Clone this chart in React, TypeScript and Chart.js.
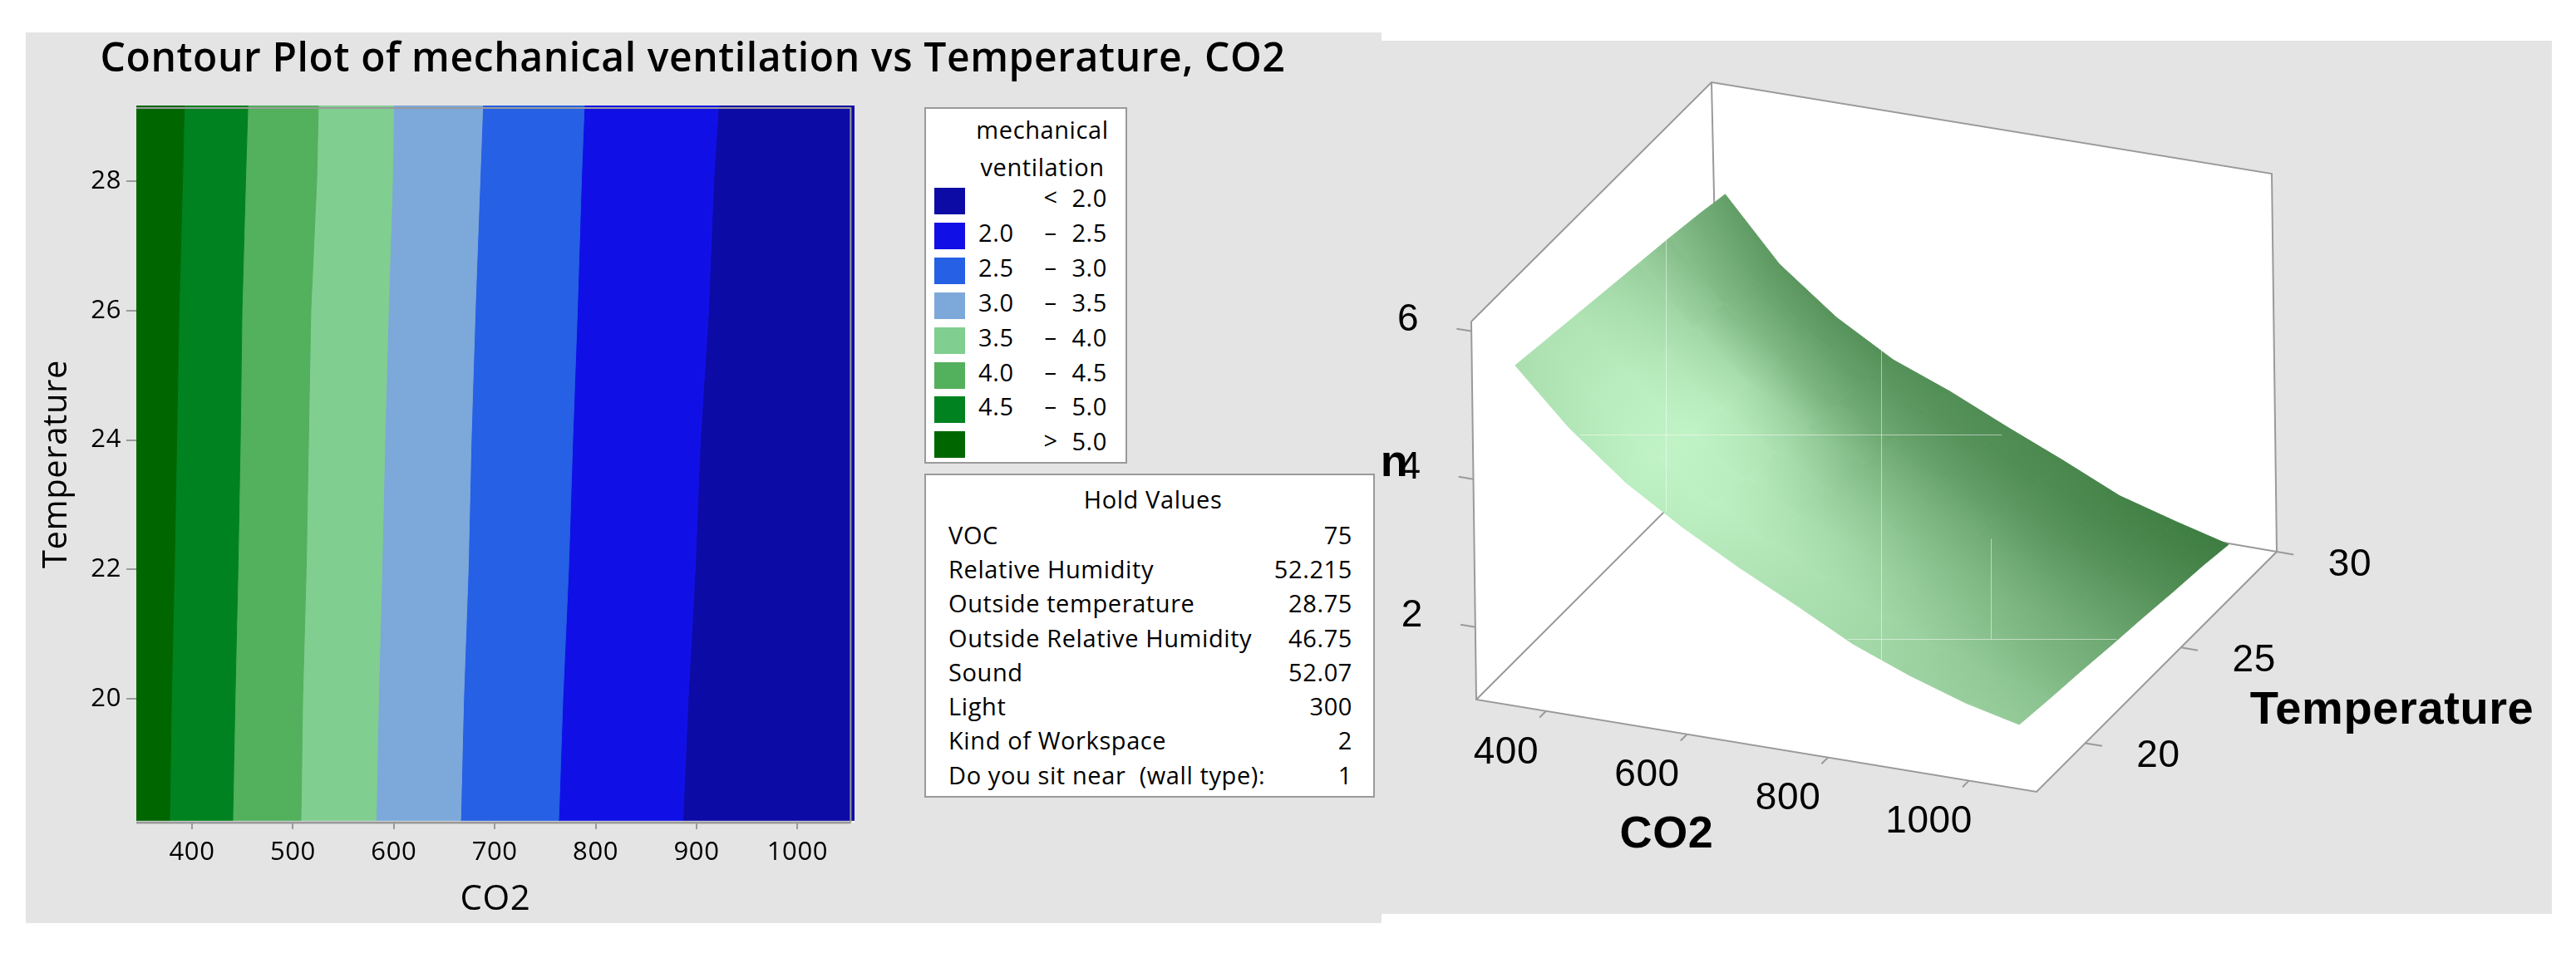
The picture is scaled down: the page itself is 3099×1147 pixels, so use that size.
import React, { useEffect, useRef } from "react";
import { Chart, registerables } from "chart.js";

Chart.register(...registerables);

// ---------- contour panel data ----------
const CHART_TITLE = "Contour Plot of mechanical ventilation vs Temperature, CO2";
const CONTOUR_TEMPS = [18.12, 20, 22, 24, 26, 28, 29.17];
const CO2_AT_5_0 = [377.8, 379.6, 382.5, 384.8, 387.1, 390.6, 392.3];
const CO2_AT_4_5 = [440.3, 442.6, 445.5, 447.8, 449.5, 453.0, 455.3];
const CO2_AT_4_0 = [507.9, 509.6, 513.1, 515.4, 517.7, 523.5, 525.2];
const CO2_AT_3_5 = [582.4, 584.8, 588.2, 591.1, 594.6, 598.6, 599.8];
const CO2_AT_3_0 = [666.2, 669.1, 673.7, 676.6, 680.6, 685.3, 688.1];
const CO2_AT_2_5 = [763.3, 767.4, 773.1, 777.2, 781.8, 785.8, 788.7];
const CO2_AT_2_0 = [886.4, 891.6, 898.5, 903.7, 911.8, 916.9, 921.6];
const CONTOUR_BOUNDARIES = [CO2_AT_5_0, CO2_AT_4_5, CO2_AT_4_0, CO2_AT_3_5, CO2_AT_3_0, CO2_AT_2_5, CO2_AT_2_0];
// from high ventilation (left) to low (right)
const BAND_COLORS = ["#006600", "#008220", "#53b05d", "#80ce90", "#7da8da", "#2560e5", "#1010e6", "#0d0ba6"];

const LEGEND_TITLE = ["mechanical", "ventilation"];
const LEGEND_LOW = ["", "2.0", "2.5", "3.0", "3.5", "4.0", "4.5", ""];
const LEGEND_SEP = ["<", "–", "–", "–", "–", "–", "–", ">"];
const LEGEND_HIGH = ["2.0", "2.5", "3.0", "3.5", "4.0", "4.5", "5.0", "5.0"];
const LEGEND_COLORS = ["#0d0ba6", "#1010e6", "#2560e5", "#7da8da", "#80ce90", "#53b05d", "#008220", "#006600"];

const HOLD_TITLE = "Hold Values";
const HOLD_NAMES = ["VOC", "Relative Humidity", "Outside temperature", "Outside Relative Humidity", "Sound", "Light", "Kind of Workspace", "Do you sit near  (wall type):"];
const HOLD_VALUES = ["75", "52.215", "28.75", "46.75", "52.07", "300", "2", "1"];

// ---------- surface panel data ----------
const SURFACE_CO2 = [345, 420, 500, 580, 660, 740, 820, 900, 980, 1055];
const SURFACE_TEMP = [18.1, 19.7, 21.3, 22.9, 24.5, 26.1, 27.7, 29.0];
const Z_AT_18_1 = [5.44, 4.72, 4.10, 3.62, 3.20, 2.82, 2.42, 2.12, 1.87, 1.70];
const Z_AT_19_7 = [5.37, 4.64, 4.02, 3.54, 3.13, 2.76, 2.37, 2.06, 1.82, 1.64];
const Z_AT_21_3 = [5.30, 4.56, 3.94, 3.46, 3.06, 2.70, 2.32, 2.00, 1.76, 1.59];
const Z_AT_22_9 = [5.23, 4.48, 3.86, 3.38, 3.00, 2.64, 2.27, 1.94, 1.71, 1.53];
const Z_AT_24_5 = [5.16, 4.40, 3.78, 3.30, 2.93, 2.58, 2.22, 1.88, 1.66, 1.48];
const Z_AT_26_1 = [5.09, 4.31, 3.70, 3.22, 2.87, 2.52, 2.17, 1.83, 1.60, 1.42];
const Z_AT_27_7 = [5.01, 4.21, 3.60, 3.14, 2.81, 2.46, 2.12, 1.77, 1.55, 1.37];
const Z_AT_29_0 = [4.93, 4.10, 3.50, 3.05, 2.75, 2.40, 2.07, 1.72, 1.50, 1.31];
const SURFACE_Z = [Z_AT_18_1, Z_AT_19_7, Z_AT_21_3, Z_AT_22_9, Z_AT_24_5, Z_AT_26_1, Z_AT_27_7, Z_AT_29_0];

// how dark the shaded surface looks at each node (0 = palest, 100 = darkest)
const SHADE_18_1 = [20, 13, 7, 8, 14, 19, 24, 29, 33, 36];
const SHADE_19_7 = [16, 9, 3, 6, 12, 19, 26, 33, 39, 44];
const SHADE_21_3 = [16, 8, 3, 9, 19, 27, 35, 43, 50, 56];
const SHADE_22_9 = [23, 14, 8, 17, 33, 40, 47, 52, 59, 64];
const SHADE_24_5 = [32, 25, 22, 34, 49, 55, 60, 66, 71, 75];
const SHADE_26_1 = [45, 47, 50, 59, 67, 72, 76, 80, 83, 86];
const SHADE_27_7 = [60, 66, 70, 75, 80, 84, 87, 90, 93, 95];
const SHADE_29_0 = [72, 78, 82, 84, 85, 88, 91, 95, 98, 100];
const SURFACE_SHADE = [SHADE_18_1, SHADE_19_7, SHADE_21_3, SHADE_22_9, SHADE_24_5, SHADE_26_1, SHADE_27_7, SHADE_29_0];

const CO2_TICKS = [400, 600, 800, 1000];
const TEMP_TICKS = [20, 25, 30];
const Z_TICKS = [2, 4, 6];

// ---------- layout constants ----------
const TEXT_FONT = '"Open Sans", sans-serif';
const BOLD_FONT = '"Liberation Sans", Arial, sans-serif';
const AXIS_GRAY = "#9a9a9a";
const PANEL_GRAY = "#e4e4e4";
const LEFT_BOX = { left: 31, top: 39, width: 1631, height: 1072 };
const RIGHT_BOX = { left: 1662, top: 49, width: 1408, height: 1051 };

const CO2_MIN = 344.8, CO2_MAX = 1056.5, TEMP_MIN = 18.086, TEMP_MAX = 29.17;
const FRAME_RIGHT = 1052.7, FRAME_TOP = 29.13;

// 3D box: value ranges and where its corners land on the page
const BOX = { co2: [301, 1096], temp: [17.46, 30], z: [1.02, 6.13] };
const C000 = [1776, 842], C100 = [2450, 953], C110 = [2739, 664], C010 = [2069, 549];
const C001 = [1770, 387], C101 = [2444, 498], C111 = [2733, 209], C011 = [2059, 99];
// thin pale seams that cross the rendered surface, in page pixels
const SEAMS = [[1900, 523, 2408, 523], [2222, 769, 2546, 769], [2004, 285, 2004, 615], [2263, 418, 2263, 801], [2395, 648, 2395, 769]];

function project(co2: number, temp: number, z: number) {
  const u = (co2 - BOX.co2[0]) / (BOX.co2[1] - BOX.co2[0]);
  const v = (temp - BOX.temp[0]) / (BOX.temp[1] - BOX.temp[0]);
  const w = (z - BOX.z[0]) / (BOX.z[1] - BOX.z[0]);
  const mix = (i: number) => {
    const bottom = (1 - v) * ((1 - u) * C000[i] + u * C100[i]) + v * ((1 - u) * C010[i] + u * C110[i]);
    const top = (1 - v) * ((1 - u) * C001[i] + u * C101[i]) + v * ((1 - u) * C011[i] + u * C111[i]);
    return (1 - w) * bottom + w * top;
  };
  return { x: mix(0), y: mix(1) };
}

function shadeRgb(s: number) {
  const t = Math.min(1, Math.max(0, s / 100));
  const pale = [196, 246, 201], dark = [62, 125, 66];
  return `rgb(${pale.map((p, i) => Math.round(p + (dark[i] - p) * t)).join(",")})`;
}

function cellFill(ctx: CanvasRenderingContext2D, p: any[], s: number[]) {
  // p and s are ordered 00, 10, 11, 01 ; the gradient follows the steepest change of shade
  const du = { x: (p[1].x - p[0].x + p[2].x - p[3].x) / 2, y: (p[1].y - p[0].y + p[2].y - p[3].y) / 2 };
  const dv = { x: (p[3].x - p[0].x + p[2].x - p[1].x) / 2, y: (p[3].y - p[0].y + p[2].y - p[1].y) / 2 };
  const gu = (s[1] - s[0] + s[2] - s[3]) / 2, gv = (s[3] - s[0] + s[2] - s[1]) / 2;
  const det = du.x * dv.y - du.y * dv.x;
  const gx = (gu * dv.y - gv * du.y) / det, gy = (gv * du.x - gu * dv.x) / det;
  const n2 = gx * gx + gy * gy;
  const mean = (s[0] + s[1] + s[2] + s[3]) / 4;
  if (n2 < 1e-7) return shadeRgb(mean);
  const cx = (p[0].x + p[1].x + p[2].x + p[3].x) / 4 - RIGHT_BOX.left;
  const cy = (p[0].y + p[1].y + p[2].y + p[3].y) / 4 - RIGHT_BOX.top;
  const d0 = mean, d1 = 100 - mean;
  const grad = ctx.createLinearGradient(cx - (gx / n2) * d0, cy - (gy / n2) * d0, cx + (gx / n2) * d1, cy + (gy / n2) * d1);
  grad.addColorStop(0, shadeRgb(0));
  grad.addColorStop(1, shadeRgb(100));
  return grad;
}

function polyline(points: any[], color: string, width: number, order = 0): any {
  return { data: points, showLine: true, pointRadius: 0, borderColor: color, borderWidth: width, fill: false, tension: 0, order };
}

const plotBackground = {
  id: "plotBackground",
  beforeDatasetsDraw(chart: any) {
    const { ctx, chartArea: a } = chart;
    ctx.save();
    ctx.fillStyle = "#ffffff";
    ctx.fillRect(a.left, a.top, a.right - a.left, a.bottom - a.top);
    ctx.restore();
  },
};

const moveTitle = {
  id: "moveTitle",
  afterLayout(chart: any) {
    if (chart.titleBlock) {
      chart.titleBlock.left = 0;
      chart.titleBlock.right = 1605;
    }
  },
};

function makeContour(canvas: HTMLCanvasElement) {
  const edges: any[][] = [
    CONTOUR_TEMPS.map((y) => ({ x: CO2_MIN, y })),
    ...CONTOUR_BOUNDARIES.map((b) => CONTOUR_TEMPS.map((y, i) => ({ x: b[i], y }))),
    CONTOUR_TEMPS.map((y) => ({ x: CO2_MAX, y })),
  ];
  const bands = BAND_COLORS.map((color, i) => {
    const ring = [...edges[i], ...[...edges[i + 1]].reverse(), edges[i][0]];
    return { data: ring, showLine: true, pointRadius: 0, tension: 0, fill: "shape", backgroundColor: color, borderColor: color, borderWidth: 1, order: 2 };
  });
  const frame = [
    { x: CO2_MIN, y: TEMP_MIN }, { x: FRAME_RIGHT, y: TEMP_MIN }, { x: FRAME_RIGHT, y: FRAME_TOP }, { x: CO2_MIN, y: FRAME_TOP },
  ];
  const asText = (v: any) => String(v);
  return new Chart(canvas, {
    type: "scatter",
    data: { datasets: [polyline([frame[3], frame[2], frame[1]], AXIS_GRAY, 2, 1), { ...polyline([frame[0], frame[1]], AXIS_GRAY, 3, 1), clip: false }, ...bands] },
    plugins: [plotBackground, moveTitle],
    options: {
      animation: false, responsive: false, maintainAspectRatio: false, devicePixelRatio: 1,
      layout: { padding: { left: 0, top: 0, right: LEFT_BOX.width - 997, bottom: 0 } },
      plugins: {
        legend: { display: false }, tooltip: { enabled: false },
        title: { display: true, text: CHART_TITLE, color: "#000", font: { family: TEXT_FONT, size: 48, weight: "600" }, padding: { top: 5, bottom: 25.4 } },
      },
      scales: {
        x: {
          type: "linear", min: CO2_MIN, max: CO2_MAX,
          afterFit: (s: any) => { s.height = 121; },
          border: { display: false },
          grid: { drawOnChartArea: false, tickLength: 8, color: AXIS_GRAY, lineWidth: 2 },
          ticks: { stepSize: 100, includeBounds: false, color: "#000", font: { family: TEXT_FONT, size: 31, weight: "500" }, padding: 10, maxRotation: 0, autoSkip: false, callback: asText },
          title: { display: true, text: "CO2", color: "#000", font: { family: TEXT_FONT, size: 42, weight: "500" }, padding: { top: 0, bottom: 3 } },
        },
        y: {
          type: "linear", min: TEMP_MIN, max: TEMP_MAX,
          afterFit: (s: any) => { s.width = 133; },
          border: { display: false },
          grid: { drawOnChartArea: false, tickLength: 12, color: AXIS_GRAY, lineWidth: 2 },
          ticks: { stepSize: 2, includeBounds: false, color: "#000", font: { family: TEXT_FONT, size: 31, weight: "500" }, padding: 6, autoSkip: false, callback: asText },
          title: { display: true, text: "Temperature", color: "#000", font: { family: TEXT_FONT, size: 40, weight: "500" }, padding: { top: 14, bottom: 0 } },
        },
      },
    } as any,
  });
}

const surfaceLabels = {
  id: "surfaceLabels",
  afterDatasetsDraw(chart: any) {
    const { ctx, scales } = chart;
    const px = (x: number) => scales.x.getPixelForValue(x), py = (y: number) => scales.y.getPixelForValue(y);
    const put = (text: string, pt: { x: number; y: number }, dx: number, dy: number, font: string) => {
      ctx.font = font;
      ctx.fillText(text, px(pt.x + dx), py(pt.y + dy));
    };
    const tickFont = `46px ${BOLD_FONT}`;
    const boldFont = `bold 54px ${BOLD_FONT}`;
    const wideBold = `bold 56px ${BOLD_FONT}`;
    ctx.save();
    ctx.strokeStyle = "rgba(255,255,255,0.5)";
    ctx.lineWidth = 1;
    SEAMS.forEach(([x0, y0, x1, y1]) => {
      ctx.beginPath();
      ctx.moveTo(px(x0) + 0.5, py(y0) + 0.5);
      ctx.lineTo(px(x1) + 0.5, py(y1) + 0.5);
      ctx.stroke();
    });
    ctx.fillStyle = "#000";
    ctx.textAlign = "center";
    ctx.textBaseline = "middle";
    CO2_TICKS.forEach((t) => put(String(t), project(t, BOX.temp[0], BOX.z[0]), -48, 50, tickFont));
    TEMP_TICKS.forEach((t) => put(String(t), project(BOX.co2[1], t, BOX.z[0]), 88, 16, tickFont));
    Z_TICKS.forEach((t) => put(String(t), project(BOX.co2[0], BOX.temp[0], t), -76, -13, tickFont));
    const mid = project((BOX.co2[0] + BOX.co2[1]) / 2, BOX.temp[0], BOX.z[0]);
    put("CO2", mid, -108, 108, boldFont);
    put("Temperature", project(BOX.co2[1], (BOX.temp[0] + BOX.temp[1]) / 2, BOX.z[0]), 283, 47, wideBold);
    put("n", project(BOX.co2[0], BOX.temp[0], 4), -95, -19, boldFont);
    ctx.restore();
  },
};

function makeSurface(canvas: HTMLCanvasElement) {
  const ctx = canvas.getContext("2d") as CanvasRenderingContext2D;
  const [cMin, cMax] = BOX.co2, [tMin, tMax] = BOX.temp, [zMin, zMax] = BOX.z;
  const A = project(cMin, tMax, zMax), B = project(cMin, tMin, zMax), C = project(cMax, tMax, zMax);
  const D = project(cMin, tMin, zMin), E = project(cMax, tMin, zMin), F = project(cMax, tMax, zMin), G = project(cMin, tMax, zMin);

  const cells: any[] = [];
  SURFACE_TEMP.slice(0, -1).forEach((_, r) => {
    SURFACE_CO2.slice(0, -1).forEach((_, c) => {
      const idx = [[r, c], [r, c + 1], [r + 1, c + 1], [r + 1, c]];
      const pts = idx.map(([a, b]) => project(SURFACE_CO2[b], SURFACE_TEMP[a], SURFACE_Z[a][b]));
      const fill = cellFill(ctx, pts, idx.map(([a, b]) => SURFACE_SHADE[a][b]));
      cells.push({ data: [...pts, pts[0]], showLine: true, pointRadius: 0, tension: 0, fill: "shape", backgroundColor: fill, borderColor: fill, borderWidth: 1, order: 2 });
    });
  });

  const tickLines = [
    ...CO2_TICKS.map((t) => [project(t, tMin, zMin), project(t, tMin - 0.33, zMin)]),
    ...TEMP_TICKS.map((t) => [project(cMax, t, zMin), project(cMax + 24, t, zMin)]),
    ...Z_TICKS.map((t) => [project(cMin, tMin, t), project(cMin - 21, tMin, t)]),
  ].map((seg) => polyline(seg, AXIS_GRAY, 2, 1));

  const box = { data: [B, A, C, F, E, D, B], showLine: true, pointRadius: 0, tension: 0, fill: "shape", backgroundColor: "#ffffff", borderColor: AXIS_GRAY, borderWidth: 2, order: 4 };

  return new Chart(canvas, {
    type: "scatter",
    data: {
      datasets: [
        ...cells,
        ...tickLines,
        polyline([D, G, F], AXIS_GRAY, 2, 3),
        polyline([A, G], AXIS_GRAY, 2, 3),
        box,
      ],
    },
    plugins: [surfaceLabels],
    options: {
      animation: false, responsive: false, maintainAspectRatio: false, devicePixelRatio: 1,
      layout: { padding: 0 },
      plugins: { legend: { display: false }, tooltip: { enabled: false } },
      scales: {
        x: { type: "linear", display: false, min: RIGHT_BOX.left, max: RIGHT_BOX.left + RIGHT_BOX.width },
        y: { type: "linear", display: false, reverse: true, min: RIGHT_BOX.top, max: RIGHT_BOX.top + RIGHT_BOX.height },
      },
    } as any,
  });
}

const abs = (left: number, top: number, width: number, height: number): React.CSSProperties => ({
  position: "absolute", left, top, width, height, boxSizing: "border-box",
});
const textRow = (left: number, centerY: number, align: "left" | "center" | "right", width: number): React.CSSProperties => ({
  position: "absolute", left, top: centerY - 20, width, height: 40, lineHeight: "40px", textAlign: align, whiteSpace: "pre",
});

export default function App() {
  const leftRef = useRef<HTMLCanvasElement>(null);
  const rightRef = useRef<HTMLCanvasElement>(null);
  useEffect(() => {
    const a = makeContour(leftRef.current as HTMLCanvasElement);
    const b = makeSurface(rightRef.current as HTMLCanvasElement);
    return () => { a.destroy(); b.destroy(); };
  }, []);
  return (
    <div style={{ position: "absolute", left: 0, top: 0, width: 3099, height: 1147, overflow: "hidden", background: "#fff", fontFamily: TEXT_FONT, color: "#000", fontSize: 29, letterSpacing: 0.6, fontWeight: 500 }}>
      <div style={{ ...abs(LEFT_BOX.left, LEFT_BOX.top, LEFT_BOX.width, LEFT_BOX.height), background: PANEL_GRAY }} />
      <div style={{ ...abs(RIGHT_BOX.left, RIGHT_BOX.top, RIGHT_BOX.width, RIGHT_BOX.height), background: PANEL_GRAY }} />
      <canvas ref={leftRef} width={LEFT_BOX.width} height={LEFT_BOX.height} style={{ position: "absolute", left: LEFT_BOX.left, top: LEFT_BOX.top, display: "block" }} />
      <canvas ref={rightRef} width={RIGHT_BOX.width} height={RIGHT_BOX.height} style={{ position: "absolute", left: RIGHT_BOX.left, top: RIGHT_BOX.top, display: "block" }} />

      <div style={{ ...abs(1112, 129, 244, 429), background: "#fff", border: `2px solid ${AXIS_GRAY}` }} />
      {LEGEND_TITLE.map((t, i) => (
        <div key={t} style={textRow(1174, 156 + i * 44.5, "center", 160)}>{t}</div>
      ))}
      {LEGEND_COLORS.map((c, i) => (
        <React.Fragment key={c}>
          <div style={{ ...abs(1124, 226 + i * 41.9, 37, 32), background: c }} />
          <div style={textRow(1177, 238 + i * 41.9, "left", 60)}>{LEGEND_LOW[i]}</div>
          <div style={textRow(1250, 237 + i * 41.9, "center", 28)}>{LEGEND_SEP[i]}</div>
          <div style={textRow(1272, 238 + i * 41.9, "right", 60)}>{LEGEND_HIGH[i]}</div>
        </React.Fragment>
      ))}

      <div style={{ ...abs(1112, 570, 542, 390), background: "#fff", border: `2px solid ${AXIS_GRAY}` }} />
      <div style={textRow(1287, 600.5, "center", 200)}>{HOLD_TITLE}</div>
      {HOLD_NAMES.map((n, i) => (
        <React.Fragment key={n}>
          <div style={textRow(1141, 643.6 + i * 41.3, "left", 420)}>{n}</div>
          <div style={textRow(1527, 643.6 + i * 41.3, "right", 100)}>{HOLD_VALUES[i]}</div>
        </React.Fragment>
      ))}
    </div>
  );
}
